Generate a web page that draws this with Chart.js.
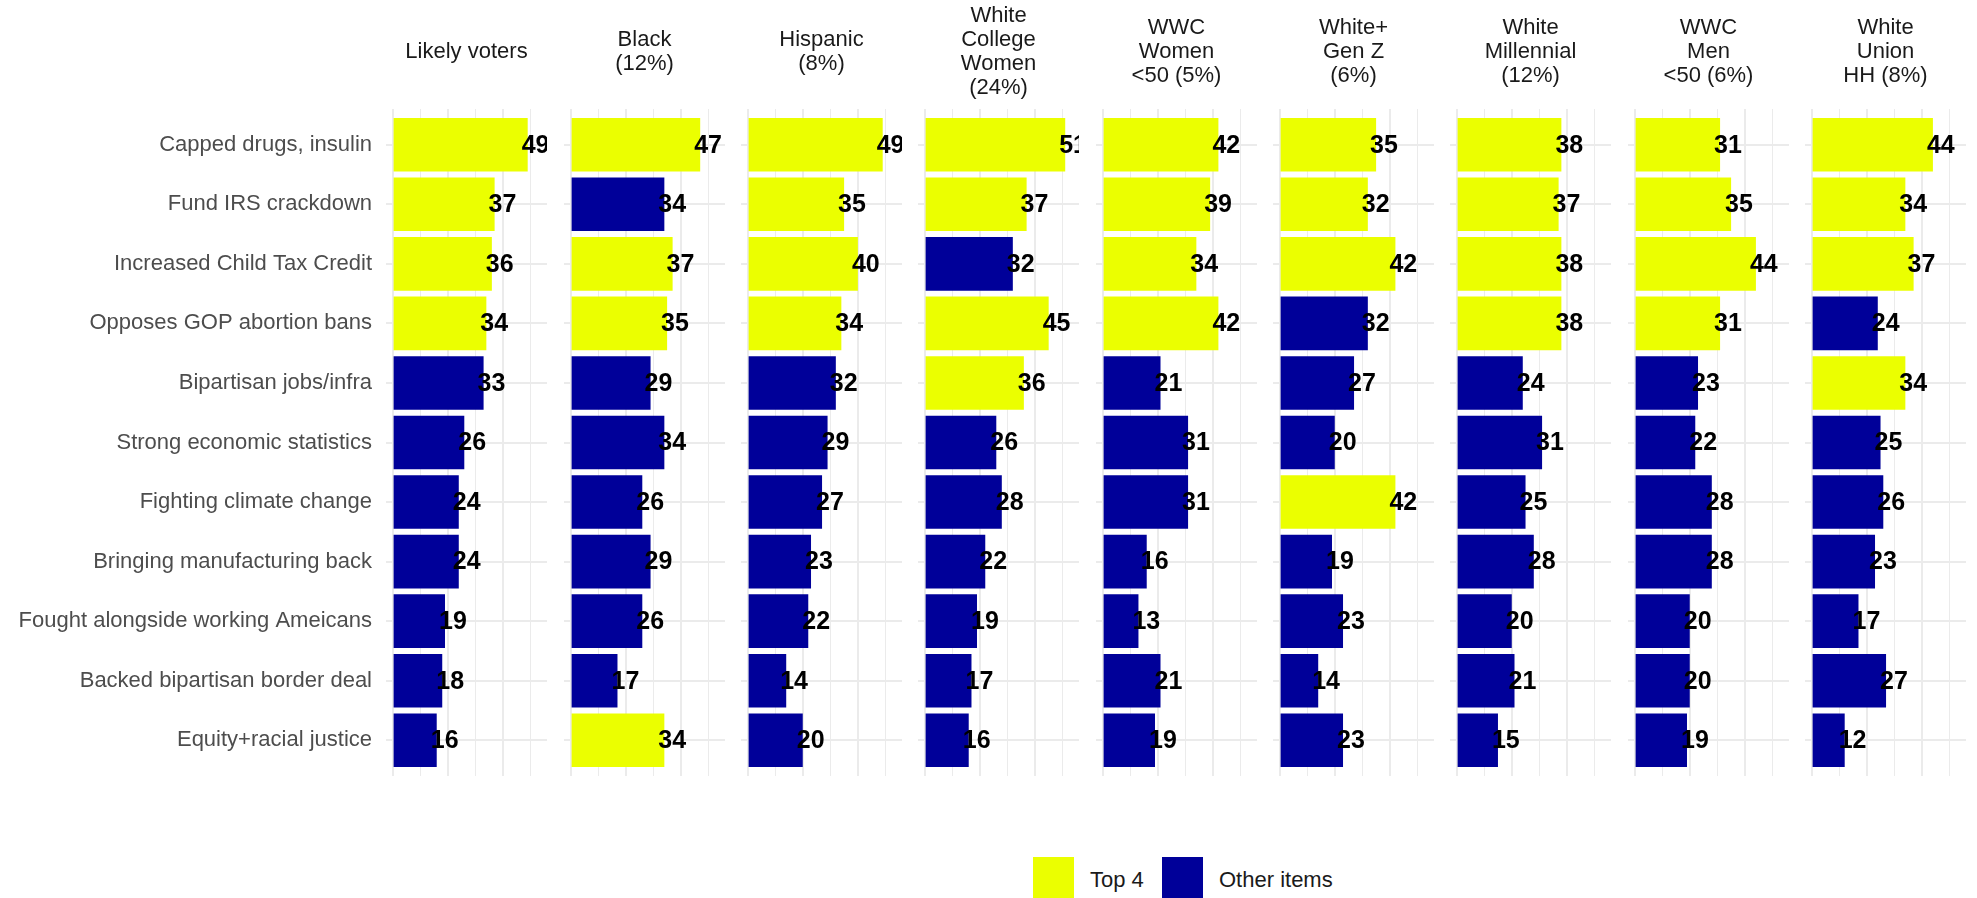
<!DOCTYPE html>
<html>
<head>
<meta charset="utf-8">
<title>Top 4 messages by group</title>
<script src="https://cdn.jsdelivr.net/npm/chart.js@4.4.1/dist/chart.umd.min.js"></script>
<style>
  body { margin: 0; width: 1977px; height: 898px; overflow: hidden; background: #fff;
         font-family: 'Liberation Sans', Arial, Helvetica, sans-serif; position: relative; }
  .panel { position: absolute; top: 0; }
  .key { position: absolute; top: 857px; width: 41px; height: 41px; }
  .key-label { position: absolute; top: 859px; line-height: 41px; font-size: 22px; color: #1a1a1a; }
</style>
</head>
<body>
<div class="key" style="left:1033px; background:#EBFF00"></div>
<div class="key-label" style="left:1090px">Top 4</div>
<div class="key" style="left:1162px; background:#000099"></div>
<div class="key-label" style="left:1219px">Other items</div>

<script>
const categories = [
    'Capped drugs, insulin',
    'Fund IRS crackdown',
    'Increased Child Tax Credit',
    'Opposes GOP abortion bans',
    'Bipartisan jobs/infra',
    'Strong economic statistics',
    'Fighting climate change',
    'Bringing manufacturing back',
    'Fought alongside working Ameicans',
    'Backed bipartisan border deal',
    'Equity+racial justice'
];

const panelTitles = [
    ['Likely voters'],
    ['Black', '(12%)'],
    ['Hispanic', '(8%)'],
    ['White', 'College', 'Women', '(24%)'],
    ['WWC', 'Women', '<50 (5%)'],
    ['White+', 'Gen Z', '(6%)'],
    ['White', 'Millennial', '(12%)'],
    ['WWC', 'Men', '<50 (6%)'],
    ['White', 'Union', 'HH (8%)']
];

const likelyVoters      = [49, 37, 36, 34, 33, 26, 24, 24, 19, 18, 16];
const black             = [47, 34, 37, 35, 29, 34, 26, 29, 26, 17, 34];
const hispanic          = [49, 35, 40, 34, 32, 29, 27, 23, 22, 14, 20];
const whiteCollegeWomen = [51, 37, 32, 45, 36, 26, 28, 22, 19, 17, 16];
const wwcWomenUnder50   = [42, 39, 34, 42, 21, 31, 31, 16, 13, 21, 19];
const whiteGenZ         = [35, 32, 42, 32, 27, 20, 42, 19, 23, 14, 23];
const whiteMillennial   = [38, 37, 38, 38, 24, 31, 25, 28, 20, 21, 15];
const wwcMenUnder50     = [31, 35, 44, 31, 23, 22, 28, 28, 20, 20, 19];
const whiteUnionHH      = [44, 34, 37, 24, 34, 25, 26, 23, 17, 27, 12];

// which rows are the group's top 4 (ties make this explicit)
const top4LikelyVoters      = [0, 1, 2, 3];
const top4Black             = [0, 2, 3, 10];
const top4Hispanic          = [0, 1, 2, 3];
const top4WhiteCollegeWomen = [0, 1, 3, 4];
const top4WwcWomenUnder50   = [0, 1, 2, 3];
const top4WhiteGenZ         = [0, 1, 2, 6];
const top4WhiteMillennial   = [0, 1, 2, 3];
const top4WwcMenUnder50     = [0, 1, 2, 3];
const top4WhiteUnionHH      = [0, 1, 2, 4];

const gridTicks = [0, 10, 20, 30, 40, 50];

const series = [likelyVoters, black, hispanic, whiteCollegeWomen, wwcWomenUnder50,
                whiteGenZ, whiteMillennial, wwcMenUnder50, whiteUnionHH];
const top4 = [top4LikelyVoters, top4Black, top4Hispanic, top4WhiteCollegeWomen, top4WwcWomenUnder50,
              top4WhiteGenZ, top4WhiteMillennial, top4WwcMenUnder50, top4WhiteUnionHH];

const TOP_COLOR = '#EBFF00';
const OTHER_COLOR = '#000099';
const GRID_COLOR = '#EBEBEB';
const FONT = "'Liberation Sans', Arial, Helvetica, sans-serif";

// layout (px)
const PANEL_X0 = 393, PANEL_PITCH = 177.3, PX_PER_UNIT = 2.749;
const X_MIN = -2.4, X_MAX = 56;
const TITLE_CENTER = 52, TITLE_BLOCK = 109, LINE_H = 24.2;
const CANVAS_H = 778;

const valueLabels = {
    id: 'valueLabels',
    afterDatasetsDraw(chart) {
        const { ctx, chartArea } = chart;
        const data = chart.data.datasets[0].data;
        ctx.save();
        ctx.beginPath();
        ctx.rect(chartArea.left, 0, chartArea.right - chartArea.left, chart.height);
        ctx.clip();
        ctx.font = `bold 25px ${FONT}`;
        ctx.fillStyle = '#000';
        ctx.textAlign = 'left';
        ctx.textBaseline = 'middle';
        chart.getDatasetMeta(0).data.forEach((bar, j) => ctx.fillText(data[j], bar.x - 6, bar.y + 1));
        ctx.restore();
    }
};

function makePanel(i) {
    const first = i === 0;
    const plotLeft = Math.round(PANEL_X0 + i * PANEL_PITCH + X_MIN * PX_PER_UNIT);
    const plotWidth = Math.round((X_MAX - X_MIN) * PX_PER_UNIT);
    const axisWidth = first ? plotLeft : 0;

    const canvas = document.createElement('canvas');
    canvas.className = 'panel';
    canvas.width = axisWidth + plotWidth;
    canvas.height = CANVAS_H;
    canvas.style.left = (first ? 0 : plotLeft) + 'px';
    document.body.appendChild(canvas);

    const nLines = panelTitles[i].length;
    const padTop = TITLE_CENTER - nLines * LINE_H / 2;
    const padBottom = TITLE_BLOCK - padTop - nLines * LINE_H;

    const xTicks = scale => { scale.ticks = gridTicks.map(v => ({ value: v })); };

    new Chart(canvas, {
        type: 'bar',
        data: {
            labels: categories,
            datasets: [{
                data: series[i],
                backgroundColor: series[i].map((_, j) => top4[i].includes(j) ? TOP_COLOR : OTHER_COLOR),
                barPercentage: 0.9,
                categoryPercentage: 1.0,
                xAxisID: 'x'
            }]
        },
        options: {
            indexAxis: 'y',
            responsive: false,
            animation: false,
            devicePixelRatio: 1,
            layout: { padding: 0 },
            plugins: {
                legend: { display: false },
                tooltip: { enabled: false },
                title: {
                    display: true,
                    fullSize: false,
                    text: panelTitles[i],
                    color: '#1A1A1A',
                    font: { family: FONT, size: 22, weight: 'normal', lineHeight: 1.1 },
                    padding: { top: padTop, bottom: padBottom }
                }
            },
            scales: {
                x: {
                    type: 'linear',
                    position: 'bottom',
                    min: X_MIN,
                    max: X_MAX,
                    afterBuildTicks: xTicks,
                    afterFit: s => { s.height = 8; s.paddingLeft = 0; s.paddingRight = 0; },
                    ticks: { display: false },
                    border: { display: false },
                    grid: {
                        color: GRID_COLOR,
                        lineWidth: c => (c.tick && c.tick.value % 20 === 0) ? 2 : 1,
                        drawTicks: true,
                        tickLength: 6
                    }
                },
                xTop: {
                    type: 'linear',
                    position: 'top',
                    min: X_MIN,
                    max: X_MAX,
                    afterBuildTicks: xTicks,
                    afterFit: s => { s.height = 6; s.paddingLeft = 0; s.paddingRight = 0; },
                    ticks: { display: false },
                    border: { display: false },
                    grid: {
                        color: GRID_COLOR,
                        lineWidth: c => (c.tick && c.tick.value % 20 === 0) ? 2 : 1,
                        drawOnChartArea: false,
                        drawTicks: true,
                        tickLength: 6
                    }
                },
                y: {
                    type: 'category',
                    offset: true,
                    afterFit: s => { s.width = axisWidth; s.paddingTop = 0; s.paddingBottom = 0; },
                    border: { display: false },
                    grid: { color: GRID_COLOR, lineWidth: 2, offset: false, drawTicks: false },
                    ticks: {
                        display: first,
                        padding: 14,
                        color: '#4D4D4D',
                        font: { family: FONT, size: 22 }
                    }
                }
            }
        },
        plugins: [valueLabels]
    });
}

series.forEach((_, i) => makePanel(i));
</script>
</body>
</html>
